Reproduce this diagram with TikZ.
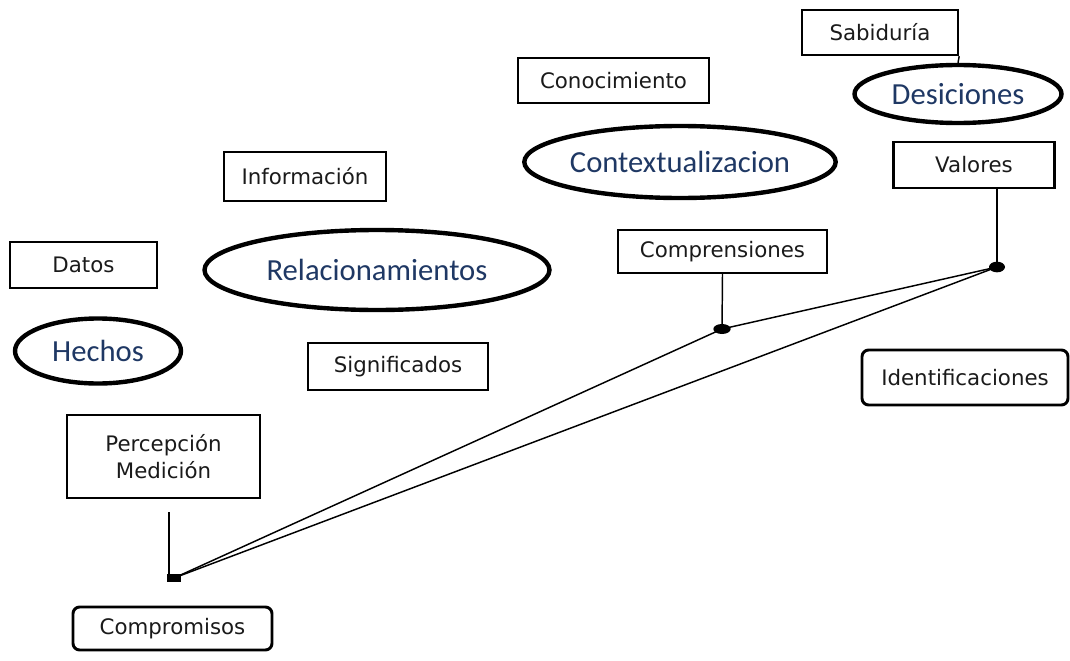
\documentclass[tikz,border=0pt]{standalone}
\usepackage{fontspec}
\usetikzlibrary{shapes.geometric}
\newfontfamily\boxfont{DejaVu Sans}
\newfontfamily\ellfont{Carlito}
\definecolor{elltext}{HTML}{1F3864}
\definecolor{boxtext}{HTML}{1A1A1A}
\tikzset{
  bx/.style={draw=black, line width=1.8pt, rectangle, inner sep=0pt, align=center,
    font=\boxfont\fontsize{16}{20}\selectfont, text=boxtext},
  rbx/.style={bx, line width=2.2pt, rounded corners=5pt},
  ell/.style={draw=black, line width=3.3pt, ellipse, inner sep=0pt,
    font=\ellfont\fontsize{23}{28}\selectfont, text=elltext},
  link/.style={draw=black, line width=1.1pt},
  blob/.style={fill=black, ellipse, inner sep=0pt, minimum width=#1}
}
\begin{document}
\begin{tikzpicture}[x=0.75pt,y=-0.75pt]
\useasboundingbox (0,0) rectangle (1070,660);
% boxes
\node[bx, minimum width=117pt, minimum height=33.75pt] (sab) at (880,32.5) {Sabidur\'ia};
\node[bx, minimum width=143.25pt, minimum height=33.75pt] (con) at (613.5,80.5) {Conocimiento};
\node[bx, minimum width=121.5pt, minimum height=36.75pt] (inf) at (305,176.5) {Informaci\'on};
\node[bx, minimum width=120.75pt, minimum height=34.5pt] (val) at (974,165) {Valores};
\node[bx, minimum width=156.75pt, minimum height=32.25pt] (cmp) at (722.5,251.5) {Comprensiones};
\node[bx, minimum width=110.25pt, minimum height=34.5pt] (dat) at (83.5,265) {Datos};
\node[bx, minimum width=135pt, minimum height=35.25pt] (sig) at (398,366.5) {Significados};
\node[rbx, minimum width=154.5pt, minimum height=41.25pt] (ide) at (965,377.5) {Identificaciones};
\node[bx, minimum width=144.75pt, minimum height=62.25pt] (per) at (163.5,456.5) {Percepci\'on\\Medici\'on};
\node[rbx, minimum width=149.25pt, minimum height=32.25pt] (com) at (172.5,628.5) {Compromisos};
% ellipses
\node[ell, minimum width=155.25pt, minimum height=43.5pt] (des) at (958,94) {Desiciones};
\node[ell, minimum width=228.75pt, minimum height=54pt] (ctx) at (680,162) {Contextualizacion};
\node[ell, minimum width=258.75pt, minimum height=60pt] (rel) at (377,270) {Relacionamientos};
\node[ell, minimum width=124.5pt, minimum height=48.75pt] (hec) at (98,351) {Hechos};
% junction points
\node[blob=13pt, minimum height=7.5pt] (dC) at (722,329) {};
\node[blob=12pt, minimum height=8pt] (dV) at (997,267) {};
\node[fill=black, rectangle, inner sep=0pt, minimum width=11pt, minimum height=6.5pt] (dP) at (174,578) {};
\coordinate (pTop) at (169,512);
% connectors
\draw[link] (sab.south east) -- (des.north);
\draw[link] (val.south -| dV) -- (dV.center);
\draw[link] (cmp.south) -- (dC.center);
\draw[link] (pTop) -- (pTop |- dP.center);
\draw[link] (dP.center) -- (dC.center);
\draw[link] (dP.center) -- (dV.center);
\draw[link] (dC.center) -- (dV.center);
\end{tikzpicture}
\end{document}
